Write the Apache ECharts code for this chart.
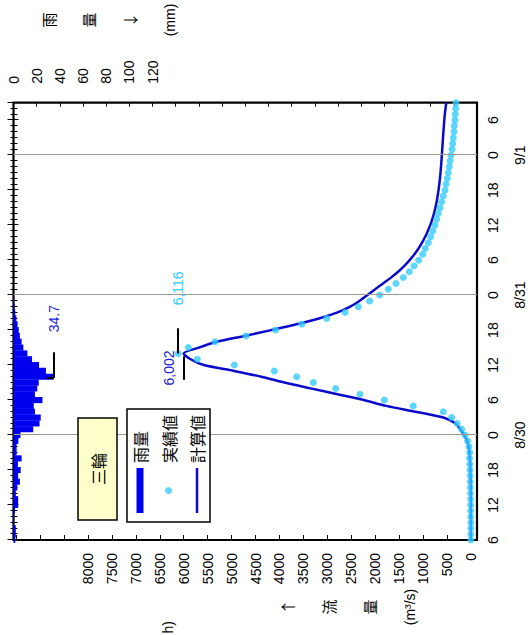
<!DOCTYPE html>
<html><head><meta charset="utf-8">
<script src="https://cdn.jsdelivr.net/npm/echarts@6/dist/echarts.min.js"></script>
<style>
html,body{margin:0;padding:0;width:530px;height:635px;overflow:hidden;background:#fff;}
#chart{position:absolute;left:0;top:0;width:635px;height:530px;transform-origin:0 0;transform:translateY(635px) rotate(-90deg);}
</style></head><body><div id="chart"></div>
<script>
// time in hours counted from 8/29 0:00
const hours = [6,7,8,9,10,11,12,13,14,15,16,17,18,19,20,21,22,23,24,25,26,27,28,29,30,31,32,33,34,35,36,37,38,39,40,41,42,43,44,45,46,47,48,49,50,51,52,53,54,55,56,57,58,59,60,61,62,63,64,65,66,67,68,69,70,71,72,73,74,75,76,77,78,79,80,81];
const observed = [0,0,0,0,2,3,5,6,8,10,12,15,18,22,28,25,40,70,
  122,194,285,402,577,1204,1809,2317,2825,3293,3639,4108,4943,5717,6116,
  5904,5347,4699,4080,3535,3013,2630,2353,2115,1906,
  1726,1565,1412,1286,1189,1091,1007,953,890,840,
  798,750,715,681,645,611,577,541,520,493,
  472,452,436,416,394,380,368,353,347,332,
  326,318,311];
const computed = [0,0,0,0,0,0,0,0,2,3,5,8,10,15,22,32,45,80,
  140,224,321,576,1157,1769,2237,2788,3349,3899,4378,4949,5581,5856,6002,
  5683,5306,4725,4174,3644,3175,2800,2530,2330,2160,
  2000,1835,1670,1520,1390,1280,1180,1095,1020,955,
  900,850,808,772,741,716,695,677,661,647,
  635,625,616,607,599,591,583,574,565,556,
  545,530,515];
const rainHours = [6,7,8,9,10,11,12,13,14,15,16,17,18,19,20,21,22,23,24,25,26,27,28,29,30,31,32,33,34,35,36,37,38,39,40,41,42,43,44,45,46,47];
const rainMm = [1.5,2,2,0.5,0.5,1.3,4,4,2,3.3,5.5,4,6.2,3.8,7,2.7,2.7,4.2,
  6,17,22.5,23.5,18.5,17.5,25,18.5,20.5,21.8,34.7,
  28,22,16,12,8.5,7,5.5,4.5,3.5,2.5,1.5,1,0.5];
const dayStarts = [24,48,72];
const dayLabels = ['8/30','8/31','9/1'];
const flowTicksMax = 8000;
const rainTicksMax = 120;
const stationName = '三輪';
const seriesNames = ['雨量','実績値','計算値'];

const FONT = '"Liberation Sans", Arial, sans-serif';
const CJK = '"Noto Sans CJK JP", "Liberation Sans", sans-serif';
const fmt = v => v.toLocaleString('en-US');
function peakOf(xs, ys){ let k=0; ys.forEach((v,i)=>{ if(v>ys[k]) k=i; }); return {t:xs[k], v:ys[k]}; }
const rainPk = peakOf(rainHours, rainMm);
const obsPk = peakOf(hours, observed);
const calPk = peakOf(hours, computed);

const chart = echarts.init(document.getElementById('chart'), null, {renderer:'svg', width:635, height:530});
const tickStyle = {color:'#000', width:1};
const option = {
  animation:false,
  backgroundColor:'#fff',
  textStyle:{fontFamily:FONT},
  grid:[
    {left:95, right:102.7, top:13.5, bottom:53, show:true, borderColor:'#000', borderWidth:2.2,
     backgroundColor:'rgba(0,0,0,0)', containLabel:false, outerBoundsMode:'none'},
    {left:95, right:102.7, top:16.2, bottom:59.1, show:false, containLabel:false, outerBoundsMode:'none'}
  ],
  legend:{show:true, orient:'vertical', left:113, top:127, padding:[5,6,5,9],
    itemWidth:45, itemHeight:7, itemGap:12.5, selectedMode:false,
    borderColor:'#000', borderWidth:1.5, backgroundColor:'#fff', borderRadius:0,
    textStyle:{fontSize:16, lineHeight:16, color:'#000', fontFamily:CJK},
    data:[{name:seriesNames[0], icon:'rect'},{name:seriesNames[1], icon:'circle'},
          {name:seriesNames[2], icon:'path://M0,0L90,0L90,5L0,5Z'}], z:10},
  xAxis:[
    {gridIndex:0, type:'value', position:'bottom', min:6, max:81, interval:6,
     axisLine:{show:false}, splitLine:{show:false},
     axisTick:{show:true, inside:true, length:6, lineStyle:tickStyle},
     minorTick:{show:true, splitNumber:6, length:3, lineStyle:tickStyle},
     axisLabel:{show:true, margin:8, showMinLabel:true, showMaxLabel:true, color:'#000',
       formatter:v=>{ if((v-6)%6!==0) return ''; const h=v%24; const di=dayStarts.indexOf(v);
         return di>=0 ? '{h|'+h+'}\n{d|'+dayLabels[di]+'}' : '{h|'+h+'}'; },
       rich:{h:{fontSize:14, lineHeight:16, color:'#000', fontFamily:FONT},
             d:{fontSize:14, lineHeight:38, color:'#000', fontFamily:FONT}}}},
    {gridIndex:0, type:'value', position:'top', min:6, max:81, interval:6,
     axisLine:{show:false}, splitLine:{show:false}, axisLabel:{show:false},
     axisTick:{show:true, inside:true, length:5, lineStyle:tickStyle},
     minorTick:{show:true, splitNumber:6, length:4, lineStyle:tickStyle}},
    {gridIndex:1, type:'value', min:6, max:81, show:false}
  ],
  yAxis:[
    {gridIndex:0, type:'value', position:'right', min:0, max:400, interval:20, inverse:true,
     axisLine:{show:false}, splitLine:{show:false},
     axisTick:{show:true, inside:true, length:4, lineStyle:tickStyle},
     axisLabel:{show:true, margin:19, fontSize:14, color:'#000', showMinLabel:true,
       formatter:v=> v<=rainTicksMax ? String(v) : ''}},
    {gridIndex:1, type:'value', position:'left', min:0, max:9500, interval:500,
     axisLine:{show:false}, splitLine:{show:false},
     axisTick:{show:true, inside:true, length:5, lineStyle:tickStyle},
     axisLabel:{show:true, margin:13, fontSize:14, color:'#000', showMinLabel:true,
       formatter:v=> v<=flowTicksMax ? String(v) : ''}}
  ],
  series:[
    {name:seriesNames[0], type:'bar', xAxisIndex:0, yAxisIndex:0, barWidth:6.1,
     data:rainHours.map((t,i)=>[t, rainMm[i]]), itemStyle:{color:'#0000F0'}, z:2,
     markLine:{silent:true, symbol:['none','none'], animation:false,
       lineStyle:{color:'#000', width:2, type:'solid'},
       data:[
         ...dayStarts.map(d=>({xAxis:d, lineStyle:{color:'#999', width:1, type:'solid'}, label:{show:false}})),
         [{coord:[rainPk.t-0.2, rainPk.v], label:{show:true, position:'end', distance:20, formatter:String(rainPk.v), color:'#1a1ae0', fontSize:14, fontFamily:FONT}},
          {coord:[rainPk.t+4.2, rainPk.v]}],
         [{coord:[rainPk.t-0.2, rainPk.v-6], label:{show:false}}, {coord:[rainPk.t-0.2, rainPk.v]}]
       ]}},
    {name:seriesNames[2], type:'line', xAxisIndex:2, yAxisIndex:1, symbol:'none', showSymbol:false, smooth:0.25,
     data:hours.map((t,i)=>[t, computed[i]]), lineStyle:{color:'#0A0ACC', width:2.5}, itemStyle:{color:'#0A0ACC'}, z:3,
     markLine:{silent:true, symbol:['none','none'], animation:false,
       lineStyle:{color:'#000', width:2, type:'solid'},
       data:[[{coord:[calPk.t-4.5, calPk.v], label:{show:true, position:'insideMiddleTop', distance:8, formatter:fmt(calPk.v), color:'#1a1ad0', fontSize:14, fontFamily:FONT}},
              {coord:[calPk.t-0.5, calPk.v]}]]}},
    {name:seriesNames[1], type:'scatter', xAxisIndex:2, yAxisIndex:1, symbol:'circle', symbolSize:7,
     data:hours.map((t,i)=>[t, observed[i]]), itemStyle:{color:'#33CCFF'}, z:4,
     markLine:{silent:true, symbol:['none','none'], animation:false,
       lineStyle:{color:'#000', width:2, type:'solid'},
       data:[[{coord:[obsPk.t, obsPk.v], label:{show:true, position:'end', distance:23, formatter:fmt(obsPk.v), color:'#33CCFF', fontSize:14, fontFamily:FONT}},
              {coord:[obsPk.t+4.3, obsPk.v]}]]}}
  ],
  graphic:[
    {type:'rect', shape:{x:115, y:78, width:102, height:39}, style:{fill:'#FFFFCC', stroke:'#000', lineWidth:1.5}, z:10},
    {type:'text', x:166, y:97.5, z:11, style:{text:stationName, fontSize:16, fontFamily:CJK, fill:'#000', align:'center', verticalAlign:'middle'}},
    {type:'text', x:615, y:27.7, z:11, style:{text:'{c|雨}\n{c|量}\n{c|↓}\n{l|(mm)}', align:'center', verticalAlign:'top', fill:'#000',
      rich:{c:{fontSize:15, lineHeight:40.7, fontFamily:CJK, fill:'#000'}, l:{fontSize:14, lineHeight:40.7, fontFamily:FONT, fill:'#000'}}}},
    {type:'text', x:28, y:266.5, z:11, style:{text:'{c|↑}\n{c|流}\n{c|量}\n{l|(m³/s)}', align:'center', verticalAlign:'top', fill:'#000',
      rich:{c:{fontSize:15, lineHeight:41, fontFamily:CJK, fill:'#000'}, l:{fontSize:14, lineHeight:41, fontFamily:FONT, fill:'#000'}}}},
    {type:'text', x:14, y:168, z:11, style:{text:'h)', fontSize:14, fontFamily:FONT, fill:'#000', align:'right', verticalAlign:'middle'}}
  ]
};
chart.setOption(option);
</script></body></html>
